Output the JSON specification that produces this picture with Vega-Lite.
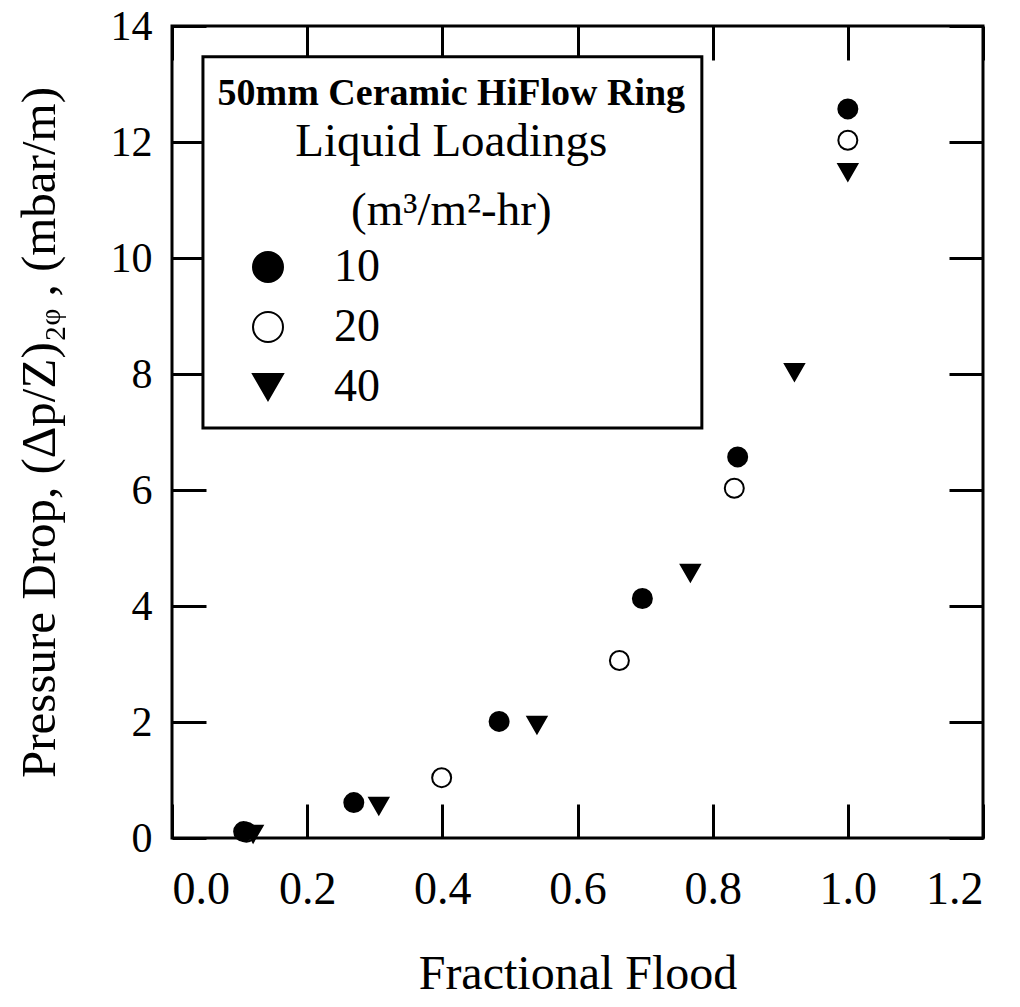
{
  "$schema": "https://vega.github.io/schema/vega-lite/v6.json",
  "width": 811,
  "height": 812,
  "autosize": {"type": "none"},
  "padding": {"left": 172, "top": 26, "right": 37, "bottom": 169},
  "background": "white",
  "config": {
    "view": {"stroke": "black", "strokeWidth": 3},
    "font": "Liberation Serif",
    "axis": {
      "domain": false,
      "grid": false,
      "tickColor": "black",
      "tickWidth": 3,
      "tickSize": -34,
      "labelColor": "black",
      "titleColor": "black",
      "labelFont": "Liberation Serif",
      "titleFont": "Liberation Serif",
      "titleFontWeight": "normal"
    }
  },
  "datasets": {
    "points": [
      {"flood": 0.11, "dp": 0.1, "loading": "20"},
      {"flood": 0.106, "dp": 0.11, "loading": "10"},
      {"flood": 0.269, "dp": 0.61, "loading": "10"},
      {"flood": 0.484, "dp": 2.01, "loading": "10"},
      {"flood": 0.696, "dp": 4.13, "loading": "10"},
      {"flood": 0.837, "dp": 6.57, "loading": "10"},
      {"flood": 1.0, "dp": 12.57, "loading": "10"},
      {"flood": 0.399, "dp": 1.04, "loading": "20"},
      {"flood": 0.662, "dp": 3.06, "loading": "20"},
      {"flood": 0.832, "dp": 6.03, "loading": "20"},
      {"flood": 1.0, "dp": 12.03, "loading": "20"},
      {"flood": 0.12, "dp": 0.07, "loading": "40"},
      {"flood": 0.306, "dp": 0.55, "loading": "40"},
      {"flood": 0.54, "dp": 1.95, "loading": "40"},
      {"flood": 0.767, "dp": 4.57, "loading": "40"},
      {"flood": 0.921, "dp": 8.03, "loading": "40"},
      {"flood": 1.0, "dp": 11.48, "loading": "40"}
    ],
    "one": [{}]
  },
  "layer": [
    {
      "data": {"name": "one"},
      "mark": {"type": "rect", "fill": "white", "stroke": "black", "strokeWidth": 3},
      "encoding": {
        "x": {"datum": 0.0458, "type": "quantitative", "scale": {"domain": [0, 1.2], "nice": false, "zero": false},
              "axis": {"orient": "top", "labels": false, "title": null, "values": [0, 0.2, 0.4, 0.6, 0.8, 1.0, 1.2]}},
        "x2": {"datum": 0.784},
        "y": {"datum": 13.47, "type": "quantitative", "scale": {"domain": [0, 14], "nice": false, "zero": false},
              "axis": {"orient": "right", "labels": false, "title": null, "values": [0, 2, 4, 6, 8, 10, 12, 14]}},
        "y2": {"datum": 7.07}
      }
    },
    {
      "data": {"name": "points"},
      "mark": {"type": "point", "stroke": "black", "strokeWidth": 2, "opacity": 1, "size": 361},
      "encoding": {
        "x": {"field": "flood", "type": "quantitative", "scale": {"domain": [0, 1.2], "nice": false, "zero": false},
              "axis": {"orient": "bottom", "title": "Fractional Flood", "values": [0, 0.2, 0.4, 0.6, 0.8, 1.0, 1.2],
                       "format": ".1f", "labelFontSize": 46, "labelPadding": 63, "titleFontSize": 48, "titlePadding": 38}},
        "y": {"field": "dp", "type": "quantitative", "scale": {"domain": [0, 14], "nice": false, "zero": false},
              "axis": {"orient": "left", "title": "Pressure Drop, (Δp/Z)₂ᵩ , (mbar/m)", "values": [0, 2, 4, 6, 8, 10, 12, 14],
                       "labelFontSize": 42, "labelPadding": 54, "titleFontSize": 49, "titlePadding": 46}},
        "shape": {"field": "loading", "type": "nominal",
                  "scale": {"domain": ["10", "20", "40"], "range": ["circle", "circle", "triangle-down"]},
                  "legend": {"orient": "none", "legendX": 73, "legendY": 218, "title": null, "padding": 0,
                             "labelFont": "Liberation Serif", "labelFontSize": 46, "labelColor": "black",
                             "labelOffset": 43, "rowPadding": 14, "symbolSize": 900, "symbolStrokeWidth": 2,
                             "symbolOpacity": 1}},
        "fill": {"field": "loading", "type": "nominal",
                 "scale": {"domain": ["10", "20", "40"], "range": ["black", "white", "black"]}},
        "stroke": {"field": "loading", "type": "nominal",
                   "scale": {"domain": ["10", "20", "40"], "range": ["black", "black", "black"]}}
      }
    },
    {
      "data": {"name": "one"},
      "mark": {"type": "text", "text": "50mm Ceramic HiFlow Ring", "font": "Liberation Serif", "fontWeight": "bold",
               "fontSize": 38, "align": "center", "baseline": "alphabetic", "color": "black"},
      "encoding": {
        "x": {"datum": 0.4133, "type": "quantitative", "axis": null},
        "y": {"datum": 12.64, "type": "quantitative", "axis": null}
      }
    },
    {
      "data": {"name": "one"},
      "mark": {"type": "text", "text": "Liquid Loadings", "font": "Liberation Serif",
               "fontSize": 47, "align": "center", "baseline": "alphabetic", "color": "black"},
      "encoding": {
        "x": {"datum": 0.4133, "type": "quantitative", "axis": null},
        "y": {"datum": 11.76, "type": "quantitative", "axis": null}
      }
    },
    {
      "data": {"name": "one"},
      "mark": {"type": "text", "text": "(m³/m²-hr)", "font": "Liberation Serif",
               "fontSize": 47, "align": "center", "baseline": "alphabetic", "color": "black"},
      "encoding": {
        "x": {"datum": 0.4133, "type": "quantitative", "axis": null},
        "y": {"datum": 10.57, "type": "quantitative", "axis": null}
      }
    }
  ],
  "resolve": {"axis": {"x": "independent", "y": "independent"}}
}
